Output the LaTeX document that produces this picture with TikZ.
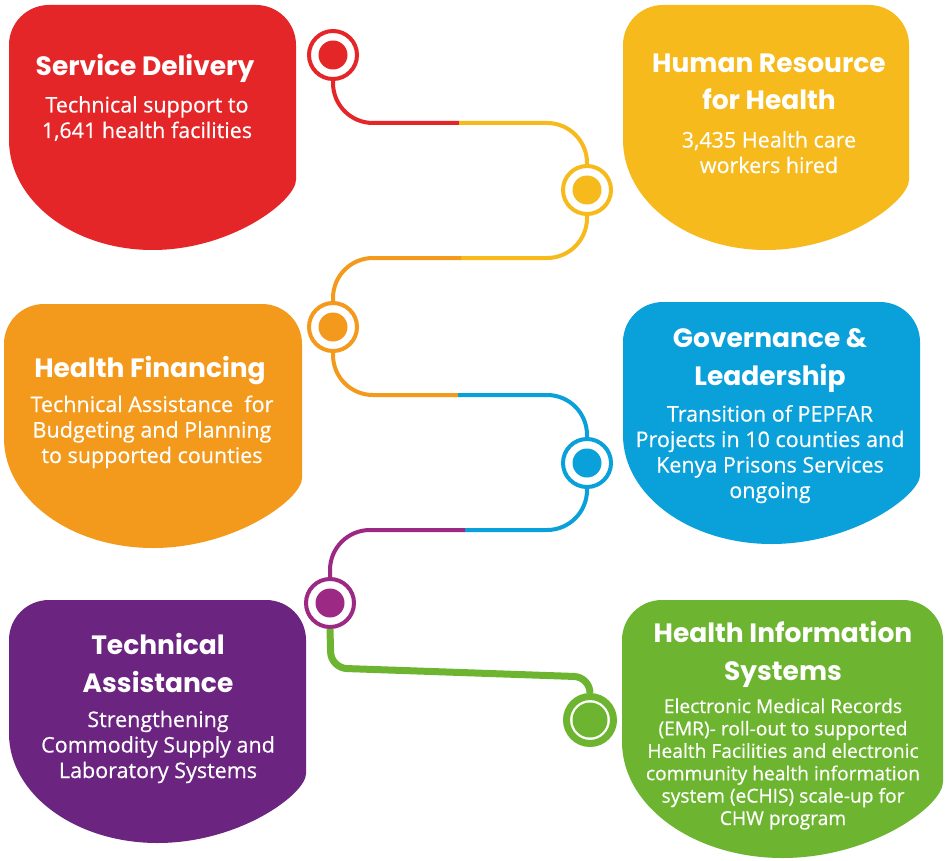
\documentclass[tikz,border=0pt]{standalone}
\usepackage{fontspec}
\setmainfont{Open Sans}
\newfontfamily\headfont{Poppins}
\newfontfamily\bodyfont[FakeBold=0.5]{Open Sans}

\definecolor{redc}{HTML}{E52628}
\definecolor{yellowc}{HTML}{F7BA1C}
\definecolor{orangec}{HTML}{F39A1D}
\definecolor{bluec}{HTML}{0AA0DA}
\definecolor{purplec}{HTML}{6B2480}
\definecolor{plumc}{HTML}{9C2A85}
\definecolor{greenc}{HTML}{6DB530}

\tikzset{
  head/.style={text=white, align=center, inner sep=0pt, anchor=base, font=\headfont\bfseries\fontsize{26.5}{37.5}\selectfont},
  body/.style={text=white, align=center, inner sep=0pt, anchor=base, font=\bodyfont\fontsize{21.5}{25.5}\selectfont},
  ring/.style={circle, draw=#1, line width=4pt, minimum size=48pt, inner sep=0pt},
  link/.style={draw=#1, line width=4pt, rounded corners=40pt},
}

% card with rounded top and round bottom: colour, x1, y1, x2, y2
\newcommand{\card}[5]{%
  \fill[#1, rounded corners=40pt] (#2,{#3+0.55*(#5-#3)}) -- (#2,#3) -- (#4,#3) -- (#4,{#3+0.55*(#5-#3)})
    arc[start angle=0, end angle=180, x radius={(#4-#2)/2}, y radius={0.45*(#5-#3)}];}

\begin{document}
\begin{tikzpicture}[x=1pt, y=-1pt]

    % Page
    \fill[white] (0,0) rectangle (947,861);
    \useasboundingbox (0,0) rectangle (947,861);

    % Draw the cards
    \card{redc}{9}{5}{296}{250}
    \card{yellowc}{623}{5}{909}{250}
    \card{orangec}{4}{304}{302}{548}
    \card{bluec}{623}{302}{920}{544}
    \card{purplec}{9}{600}{306}{843}
    \card{greenc}{622}{600}{943}{858}

    % Card texts (placed at the baseline of the last line)
    \node[head] (sdTitle) at (145,76) {Service Delivery};
    \node[body] (sdText) at (147,138) {Technical support to\\1,641 health facilities};

    \node[head] (hrTitle) at (769,110) {Human Resource\\for Health};
    \node[body] (hrText) at (769,173) {3,435 Health care\\workers hired};

    \node[head] (hfTitle) at (150,377) {Health Financing};
    \node[body] (hfText) at (152,463) {Technical Assistance\ \ for\\Budgeting and Planning\\to supported counties};

    \node[head] (glTitle) at (770,385) {Governance \&\\Leadership};
    \node[body] (glText) at (770,498) {Transition of PEPFAR\\Projects in 10 counties and\\Kenya Prisons Services\\ongoing};

    \node[head] (taTitle) at (158,692) {Technical\\Assistance};
    \node[body] (taText) at (158,778) {Strengthening\\Commodity Supply and\\Laboratory Systems};

    \node[head] (hisTitle) at (783,680) {Health Information\\Systems};
    \node[body, font=\bodyfont\fontsize{19.2}{22.4}\selectfont] (hisText) at (783,825) {Electronic Medical Records\\(EMR)- roll-out to supported\\Health Facilities and electronic\\community health information\\system (eCHIS) scale-up for\\CHW program};

    % Draw the dots
    \node[ring=redc] (sdDot) at (333,55) {};
    \node[ring=yellowc] (hrDot) at (587,190) {};
    \node[ring=orangec] (hfDot) at (333,327) {};
    \node[ring=bluec] (glDot) at (587,463) {};
    \node[ring=plumc] (taDot) at (330,603) {};
    \node[circle, draw=greenc, line width=7pt, minimum size=47pt, inner sep=0pt] (hisDot) at (590,720) {};

    \fill[redc] (sdDot) circle (14.5);
    \fill[yellowc] (hrDot) circle (14.5);
    \fill[orangec] (hfDot) circle (14.5);
    \fill[bluec] (glDot) circle (14.5);
    \fill[plumc] (taDot) circle (14.5);
    \fill[greenc] (hisDot) circle (17.5);

    % Split points of the path
    \coordinate (m1) at (459,123);
    \coordinate (m2) at (461,258);
    \coordinate (m3) at (458,395);
    \coordinate (m4) at (465,530);
    \coordinate (g1) at (331,668);
    \coordinate (g2) at (590,677);

    % Draw the path
    \draw[link=redc] (sdDot.south) |- (m1);
    \draw[link=yellowc] (m1) -| (hrDot.north);
    \draw[link=yellowc] (hrDot.south) |- (m2);
    \draw[link=orangec] (m2) -| (hfDot.north);
    \draw[link=orangec] (hfDot.south) |- (m3);
    \draw[link=bluec] (m3) -| (glDot.north);
    \draw[link=bluec] (glDot.south) |- (m4);
    \draw[link=plumc] (m4) -| (taDot.north);
    \draw[greenc, line width=7pt, rounded corners=16pt] (taDot.south) -- (g1) -- (g2) -- (hisDot.north);

\end{tikzpicture}
\end{document}
